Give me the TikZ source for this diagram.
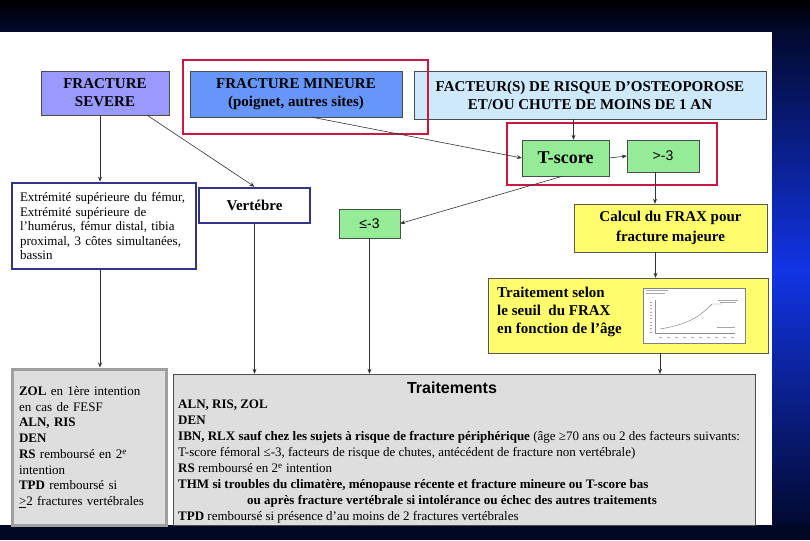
\documentclass[tikz,border=0pt]{standalone}
\usepackage{fontspec}
\setmainfont{Liberation Serif}
\setsansfont{Liberation Sans}
\usetikzlibrary{positioning}
\usetikzlibrary{arrows.meta}
\definecolor{bgmid}{RGB}{18,52,228}
\definecolor{bgdark}{RGB}{2,10,48}
\definecolor{bgbot}{RGB}{0,8,36}
\definecolor{severe}{RGB}{153,153,255}
\definecolor{mineure}{RGB}{102,150,250}
\definecolor{facteur}{RGB}{206,232,252}
\definecolor{tgreen}{RGB}{150,236,150}
\definecolor{frax}{RGB}{255,255,110}
\definecolor{traitgray}{RGB}{222,222,222}
\definecolor{hlred}{RGB}{204,24,64}
\definecolor{siteblue}{RGB}{52,52,140}

\tikzset{
  head/.style={draw=black!70, align=center, inner sep=0pt, font=\fontsize{15}{18}\selectfont\bfseries},
  green/.style={draw=black!70, fill=tgreen, inner sep=0pt},
  fraxbox/.style={draw=black!65, fill=frax, inner sep=0pt},
  site/.style={draw=siteblue, line width=2.6pt, fill=white, inner sep=0pt},
  hl/.style={draw=hlred, line width=1.6pt},
  conn/.style={-{Stealth[length=5pt,width=4pt]}, black!80, line width=0.6pt},
}

\begin{document}
\begin{tikzpicture}[x=1pt,y=-1pt]
  \useasboundingbox (0,0) rectangle (810,540);
  % background
  \shade[top color=black, bottom color=bgdark] (0,0) rectangle (810,32);
  \shade[top color=bgdark, bottom color=bgmid] (772,32) rectangle (810,270);
  \shade[top color=bgmid, bottom color=bgdark] (772,270) rectangle (810,525);
  \fill[bgbot] (0,525) rectangle (810,540);
  \fill[white] (0,32) rectangle (772,525);
  % top row
  \node[head, fill=severe, minimum width=128, minimum height=44] (severe) at (105,93) {FRACTURE\\SEVERE};
  \node[head, fill=mineure, minimum width=212, minimum height=46] (mineure) at (296,94) {FRACTURE MINEURE\\(poignet, autres sites)};
  \node[head, fill=facteur, minimum width=352, minimum height=48] (facteur) at (590,95) {FACTEUR(S) DE RISQUE D’OSTEOPOROSE\\ET/OU CHUTE DE MOINS DE 1 AN};
  % T-score
  \node[green, minimum width=87, minimum height=36, font=\fontsize{18}{20}\selectfont\bfseries] (tscore) at (565.5,158) {T-score};
  \node[green, minimum width=72, minimum height=32, font=\fontsize{14}{16}\sffamily] (sup3) at (663,156) {>-3};
  \node[green, minimum width=61, minimum height=29, font=\fontsize{14}{16}\sffamily] (inf3) at (369.5,223.5) {≤-3};
  %\draw[hl] (183,60) rectangle (428,134);
  \draw[hl] (183,60) rectangle (428,134);
  \draw[hl] (507,123) rectangle (717,185);
  % sites
  \node[site, minimum width=184, minimum height=86, text width=168, align=left, font=\fontsize{13}{14.5}\selectfont] (extremite) at (104,226)
    {Extrémité supérieure du fémur,\\Extrémité supérieure de\\l’humérus, fémur distal, tibia\\proximal, 3 côtes simultanées,\\bassin};
  \node[site, minimum width=111, minimum height=35, font=\fontsize{15}{18}\selectfont\bfseries] (vertebre) at (254.5,205.5) {Vertébre};
  % FRAX
  \node[fraxbox, minimum width=193, minimum height=48, align=center, font=\fontsize{15}{20}\selectfont\bfseries] (calcul) at (670.5,228) {Calcul du FRAX pour\\fracture majeure};
  \node[fraxbox, minimum width=280, minimum height=75] (seuil) at (628,315.5) {};
  \node[anchor=west, align=left, inner sep=0pt, font=\fontsize{15}{18}\selectfont\bfseries] (seuiltxt) at (497,312) {Traitement selon\\le seuil \ du FRAX\\en fonction de l’âge};
  % small FRAX chart
  \draw[black!50, fill=white, line width=0.5pt] (643,288) rectangle (745,343);
  \draw[black!45, line width=0.3pt] (655,300) -- (655,333) -- (735,333);
  \draw[black!55, line width=0.4pt] (660,329) .. controls (690,324) and (700,316) .. (712,304) -- (722,304);
  \foreach \i in {0,...,9}
    \draw[black!35, line width=0.4pt] (659+8*\i,337) -- (662+8*\i,337);
  \foreach \i in {0,...,9}
    \draw[black!35, line width=0.3pt] (650,302+3.3*\i) -- (652,302+3.3*\i);
  \draw[black!35, line width=0.4pt] (646,290.5) -- (668,290.5) (646,293) -- (665,293);
  \draw[black!35, line width=0.4pt] (718,300) -- (738,300) (720,302.5) -- (736,302.5) (717,327) -- (735,327);
  % treatments
  \node[draw=gray!75, line width=3pt, fill=traitgray, minimum width=154, minimum height=156, text width=140, align=left, inner sep=0pt, font=\fontsize{13}{15.7}\selectfont] (zol) at (89,447)
    {\textbf{ZOL} en 1ère intention\\en cas de FESF\\\textbf{ALN, RIS}\\\textbf{DEN}\\\textbf{RS} remboursé en 2\textsuperscript{e}\\intention\\\textbf{TPD} remboursé si\\\underline{>}2 fractures vertébrales};
  \node[draw=black!70, fill=traitgray, minimum width=582, minimum height=151, inner sep=0pt] (trait) at (464,449.5) {};
  \node[font=\fontsize{16}{18}\sffamily\bfseries, inner sep=0pt] (traittitle) at (452,388) {Traitements};
  \node[anchor=north west, align=left, inner sep=0pt, font=\fontsize{13}{15.9}\selectfont] (traitbody) at (178,400)
    {\textbf{ALN, RIS, ZOL}\\
     \textbf{DEN}\\
     \textbf{IBN, RLX sauf chez les sujets à risque de fracture périphérique} (âge ≥70 ans ou 2 des facteurs suivants:\\
     T-score fémoral ≤-3, facteurs de risque de chutes, antécédent de fracture non vertébrale)\\
     \textbf{RS} remboursé en 2\textsuperscript{e} intention\\
     \textbf{THM si troubles du climatère, ménopause récente et fracture mineure ou T-score bas}\\
     \hspace*{69pt}\textbf{ou après fracture vertébrale si intolérance ou échec des autres traitements}\\
     \textbf{TPD} remboursé si présence d’au moins de 2 fractures vertébrales};
  % connectors
  \draw[conn] ([xshift=-5pt]severe.south) -- ([xshift=-5pt]severe.south |- extremite.north);
  \draw[conn] ([xshift=42pt]severe.south) -- (vertebre.north);
  \draw[conn] ([xshift=16pt]mineure.south) -- (tscore.west);
  \draw[conn] ([xshift=8pt]tscore.north |- facteur.south) -- ([xshift=8pt]tscore.north);
  \draw[conn] (tscore.east) -- (sup3.west);
  \draw[conn] ([xshift=-8pt]sup3.south) -- ([xshift=-8pt]sup3.south |- calcul.north);
  \draw[conn] ([xshift=-15pt]calcul.south) -- ([xshift=-15pt]calcul.south |- seuil.north);
  \draw[conn] ([xshift=-3pt]tscore.south) -- (inf3.east);
  \draw[conn] (inf3.south) -- (inf3.south |- trait.north);
  \draw[conn] (vertebre.south) -- (vertebre.south |- trait.north);
  \draw[conn] ([xshift=32pt]seuil.south) -- ([xshift=32pt]seuil.south |- trait.north);
  \draw[conn] ([xshift=-4pt]extremite.south) -- ([xshift=-4pt]extremite.south |- zol.north);
\end{tikzpicture}
\end{document}
